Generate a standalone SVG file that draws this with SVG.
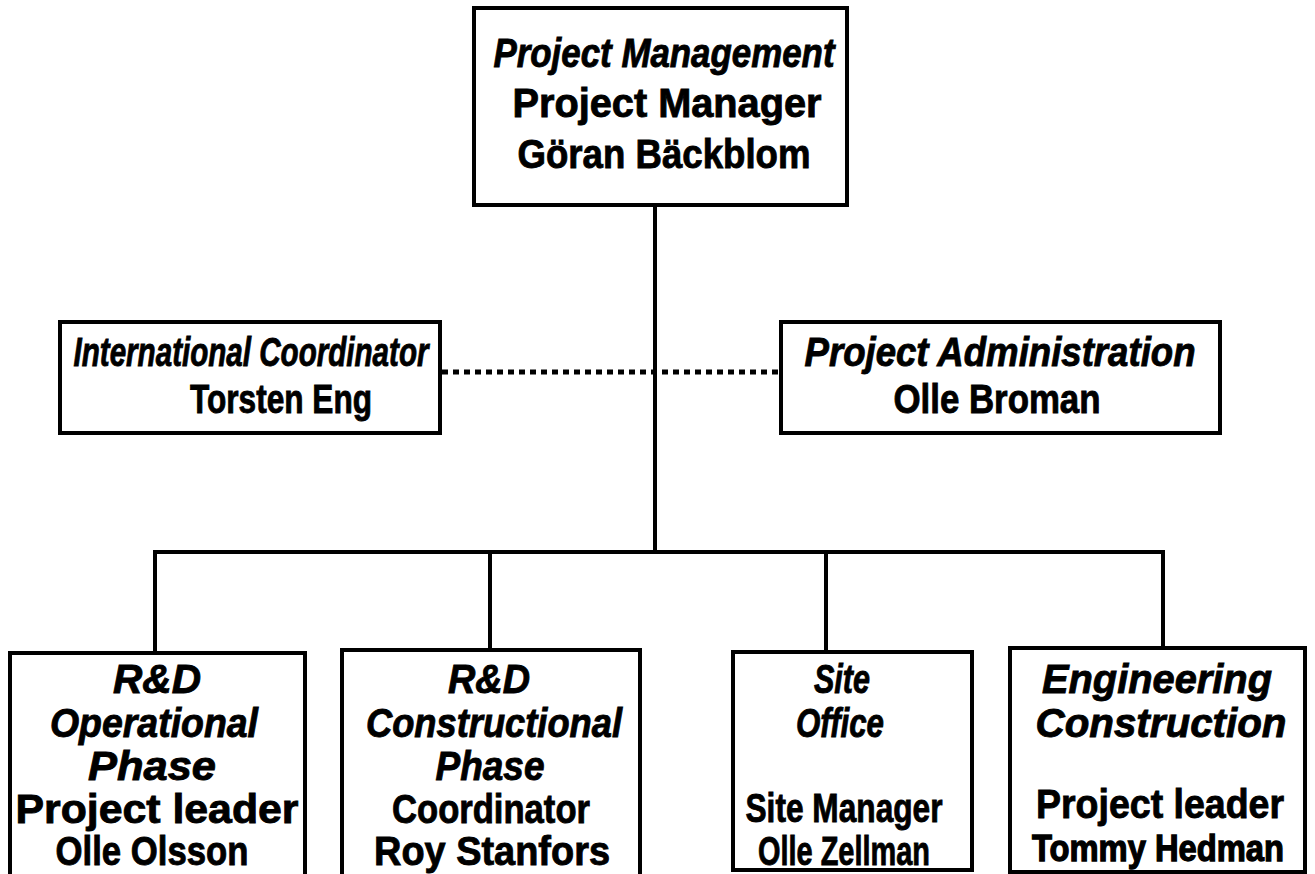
<svg xmlns="http://www.w3.org/2000/svg" width="1315" height="874" viewBox="0 0 1315 874">
<style>
.box{fill:#fff;stroke:#000;stroke-width:4}
.ln{fill:none;stroke:#000;stroke-width:4}
.dot{fill:none;stroke:#000;stroke-width:5;stroke-dasharray:6 5}
text{font-family:"Liberation Sans","DejaVu Sans",sans-serif;font-weight:bold;font-size:41px;fill:#000;stroke:#000;stroke-width:0.9;text-anchor:middle}
.i{font-style:italic}
.s{font-size:36px;stroke-width:1.3}
</style>
<rect width="1315" height="874" fill="#fff"/>
<g id="connectors">
<line class="ln" x1="655" y1="205" x2="655" y2="552"/>
<line class="dot" x1="442" y1="372" x2="780" y2="372"/>
<polyline class="ln" points="155,653 155,552 1163,552 1163,648"/>
<line class="ln" x1="490" y1="552" x2="490" y2="650"/>
<line class="ln" x1="826" y1="552" x2="826" y2="652"/>
</g>
<g id="n-pm">
<rect class="box" x="474" y="8" width="373" height="197"/>
<text class="i" x="664" y="67" textLength="341" lengthAdjust="spacingAndGlyphs">Project Management</text>
<text x="667" y="117" textLength="309" lengthAdjust="spacingAndGlyphs">Project Manager</text>
<text x="664" y="168" textLength="293" lengthAdjust="spacingAndGlyphs">Göran Bäckblom</text>
</g>
<g id="n-ic">
<rect class="box" x="60" y="322" width="380" height="111"/>
<text class="i" x="251" y="366" textLength="355" lengthAdjust="spacingAndGlyphs">International Coordinator</text>
<text x="281" y="413" textLength="182" lengthAdjust="spacingAndGlyphs">Torsten Eng</text>
</g>
<g id="n-pa">
<rect class="box" x="781" y="322" width="439" height="111"/>
<text class="i" x="1000" y="366" textLength="391" lengthAdjust="spacingAndGlyphs">Project Administration</text>
<text x="997" y="413" textLength="207" lengthAdjust="spacingAndGlyphs">Olle Broman</text>
</g>
<g id="n-rdo">
<rect class="box" x="10" y="653" width="295" height="225"/>
<text class="i" x="157" y="693" textLength="88" lengthAdjust="spacingAndGlyphs">R&amp;D</text>
<text class="i" x="154" y="737" textLength="208" lengthAdjust="spacingAndGlyphs">Operational</text>
<text class="i" x="152" y="780" textLength="128" lengthAdjust="spacingAndGlyphs">Phase</text>
<text x="157" y="823" textLength="283" lengthAdjust="spacingAndGlyphs">Project leader</text>
<text x="152" y="865" textLength="193" lengthAdjust="spacingAndGlyphs">Olle Olsson</text>
</g>
<g id="n-rdc">
<rect class="box" x="342" y="650" width="298" height="228"/>
<text class="i" x="489" y="693" textLength="82" lengthAdjust="spacingAndGlyphs">R&amp;D</text>
<text class="i" x="494" y="737" textLength="256" lengthAdjust="spacingAndGlyphs">Constructional</text>
<text class="i" x="490" y="780" textLength="109" lengthAdjust="spacingAndGlyphs">Phase</text>
<text x="491" y="823" textLength="198" lengthAdjust="spacingAndGlyphs">Coordinator</text>
<text x="492" y="865" textLength="236" lengthAdjust="spacingAndGlyphs">Roy Stanfors</text>
</g>
<g id="n-so">
<rect class="box" x="733" y="652" width="239" height="218"/>
<text class="i" x="842" y="693" textLength="56" lengthAdjust="spacingAndGlyphs">Site</text>
<text class="i" x="840" y="737" textLength="88" lengthAdjust="spacingAndGlyphs">Office</text>
<text x="844" y="822" textLength="197" lengthAdjust="spacingAndGlyphs">Site Manager</text>
<text x="844" y="865" textLength="172" lengthAdjust="spacingAndGlyphs">Olle Zellman</text>
</g>
<g id="n-ec">
<rect class="box" x="1010" y="648" width="295" height="224"/>
<text class="i" x="1157" y="693" textLength="230" lengthAdjust="spacingAndGlyphs">Engineering</text>
<text class="i" x="1161" y="737" textLength="251" lengthAdjust="spacingAndGlyphs">Construction</text>
<text x="1160" y="818" textLength="248" lengthAdjust="spacingAndGlyphs">Project leader</text>
<text class="s" x="1158" y="861" textLength="252" lengthAdjust="spacingAndGlyphs">Tommy Hedman</text>
</g>
</svg>
